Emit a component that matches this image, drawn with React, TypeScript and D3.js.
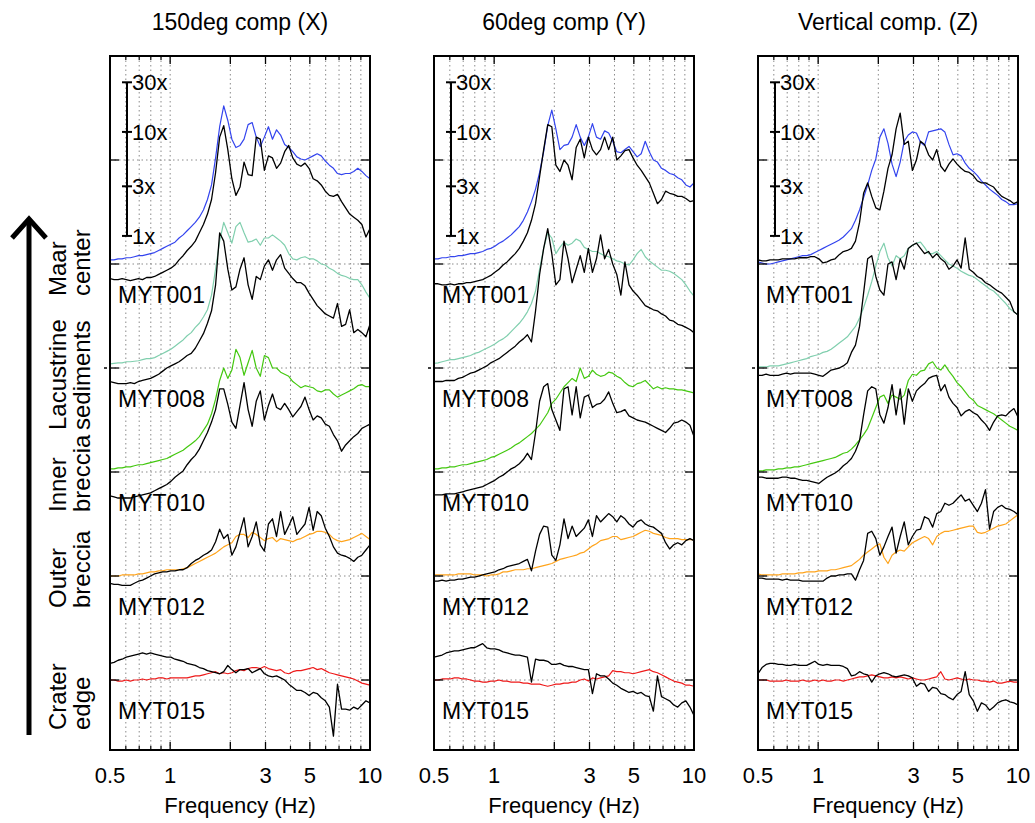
import React from 'react';
import * as d3 from 'd3';

// ---------------- DATA ----------------
// Frequency samples (Hz), log-spaced 0.5 - 10
const FREQ = [0.500,0.524,0.549,0.575,0.603,0.632,0.662,0.694,0.727,0.762,0.798,0.836,0.876,0.918,0.962,1.008,1.057,1.108,1.161,1.216,1.275,1.336,1.400,1.467,1.537,1.611,1.688,1.769,1.854,1.943,2.036,2.133,2.236,2.343,2.455,2.573,2.696,2.825,2.961,3.103,3.251,3.407,3.570,3.741,3.921,4.108,4.305,4.512,4.729,4.955,5.193,5.441,5.702,5.975,6.262,6.562,6.876,7.206,7.551,7.913,8.292,8.690,9.106,9.543,10.000];

const COMPONENTS = ['150deg comp (X)', '60deg comp (Y)', 'Vertical comp. (Z)'];
const STATIONS = ['MYT001', 'MYT008', 'MYT010', 'MYT012', 'MYT015'];
const STATION_DECADE = [4, 3, 2, 1, 0];
const GROUPS = [['Maar', 'center'], ['Lacustrine', 'sediments'], ['Inner', 'breccia'], ['Outer', 'breccia'], ['Crater', 'edge']];
const X_TICK_LABELS = [0.5, 1, 3, 5, 10];
const X_MAJOR = [1, 2, 3, 5];
const X_MINOR = [0.6, 0.7, 0.8, 0.9, 4, 6, 7, 8, 9];
const X_GRID = [0.6, 0.7, 0.8, 0.9, 1, 2, 3, 4, 5, 6, 7, 8, 9];
const SCALE_BAR = [1, 3, 10, 30];
const SCALE_BAR_BASE = 4.27; // log10 position of "1x"

// log10 spectral ratio (reference site = coloured, station = black)
const X001_REF = [0.04,0.04,0.05,0.05,0.06,0.06,0.07,0.08,0.08,0.09,0.10,0.11,0.13,0.15,0.17,0.19,0.21,0.25,0.28,0.32,0.36,0.40,0.45,0.52,0.62,0.76,1.02,1.32,1.52,1.38,1.20,1.12,1.14,1.20,1.34,1.36,1.22,1.13,1.22,1.32,1.20,1.29,1.24,1.15,1.12,1.08,1.03,1.01,1.00,1.02,1.04,1.06,1.04,0.99,0.95,0.92,0.87,0.86,0.87,0.87,0.89,0.92,0.89,0.85,0.82];
const X001_OBS = [-0.14,-0.15,-0.15,-0.14,-0.15,-0.16,-0.15,-0.14,-0.15,-0.13,-0.13,-0.12,-0.10,-0.08,-0.06,-0.04,-0.01,0.04,0.08,0.13,0.17,0.22,0.30,0.38,0.48,0.62,0.88,1.22,1.33,1.10,0.82,0.66,0.74,0.98,0.86,0.85,1.22,1.20,0.90,1.04,1.02,0.92,0.97,1.08,1.14,1.02,0.96,0.94,0.97,0.92,0.82,0.80,0.76,0.70,0.66,0.65,0.67,0.60,0.54,0.48,0.45,0.42,0.38,0.26,0.34];
const X008_REF = [0.04,0.045,0.05,0.05,0.06,0.06,0.065,0.07,0.08,0.09,0.09,0.10,0.12,0.14,0.16,0.18,0.21,0.24,0.27,0.31,0.34,0.39,0.43,0.49,0.56,0.70,0.95,1.22,1.40,1.30,1.20,1.36,1.40,1.30,1.21,1.22,1.24,1.18,1.25,1.25,1.28,1.25,1.22,1.18,1.10,1.05,1.04,1.06,1.07,1.05,1.05,1.03,1.00,0.99,0.96,0.94,0.91,0.89,0.88,0.86,0.85,0.85,0.80,0.73,0.67];
const X008_OBS = [-0.13,-0.14,-0.15,-0.15,-0.15,-0.14,-0.15,-0.13,-0.12,-0.11,-0.10,-0.08,-0.06,-0.03,0.00,0.02,0.04,0.06,0.09,0.12,0.14,0.19,0.26,0.33,0.43,0.55,0.80,1.30,1.22,0.95,0.75,0.78,0.95,1.06,0.80,0.66,0.88,0.85,0.98,1.04,0.94,1.04,1.09,0.96,0.91,0.86,0.82,0.82,0.79,0.72,0.66,0.60,0.56,0.52,0.50,0.48,0.62,0.40,0.42,0.56,0.34,0.37,0.34,0.30,0.42];
const X010_REF = [0.03,0.03,0.04,0.04,0.05,0.05,0.06,0.07,0.07,0.08,0.09,0.10,0.11,0.12,0.13,0.15,0.17,0.19,0.21,0.24,0.27,0.30,0.34,0.40,0.46,0.56,0.70,0.88,1.00,0.90,0.98,1.18,1.10,0.93,1.05,1.17,1.00,0.92,1.12,1.10,1.00,1.00,0.96,0.94,0.92,0.87,0.84,0.81,0.83,0.82,0.81,0.78,0.77,0.79,0.79,0.75,0.72,0.74,0.76,0.78,0.80,0.83,0.84,0.82,0.82];
const X010_OBS = [-0.23,-0.24,-0.25,-0.25,-0.25,-0.25,-0.24,-0.23,-0.22,-0.21,-0.20,-0.18,-0.16,-0.14,-0.12,-0.09,-0.05,-0.02,0.01,0.07,0.12,0.16,0.22,0.30,0.38,0.48,0.60,0.80,0.80,0.65,0.48,0.42,0.64,0.86,0.60,0.44,0.68,0.78,0.50,0.64,0.75,0.62,0.60,0.66,0.60,0.53,0.58,0.63,0.72,0.60,0.50,0.54,0.52,0.46,0.44,0.36,0.30,0.20,0.26,0.30,0.34,0.37,0.42,0.44,0.46];
const X012_REF = [0.00,0.00,0.00,0.01,0.01,0.01,0.01,0.02,0.02,0.03,0.04,0.04,0.05,0.05,0.06,0.06,0.06,0.06,0.07,0.08,0.10,0.12,0.14,0.16,0.18,0.20,0.22,0.25,0.28,0.30,0.32,0.38,0.40,0.40,0.37,0.42,0.40,0.37,0.34,0.36,0.37,0.33,0.36,0.35,0.34,0.33,0.35,0.36,0.38,0.40,0.41,0.43,0.43,0.42,0.40,0.36,0.34,0.33,0.34,0.35,0.37,0.39,0.41,0.38,0.35];
const X012_OBS = [-0.07,-0.08,-0.08,-0.09,-0.09,-0.09,-0.07,-0.05,-0.04,-0.02,0.00,0.02,0.03,0.04,0.04,0.05,0.05,0.06,0.06,0.08,0.12,0.15,0.17,0.20,0.22,0.25,0.33,0.45,0.36,0.40,0.20,0.28,0.42,0.56,0.28,0.38,0.52,0.30,0.24,0.50,0.55,0.38,0.62,0.40,0.48,0.57,0.40,0.45,0.50,0.66,0.44,0.62,0.58,0.46,0.38,0.28,0.22,0.20,0.19,0.17,0.14,0.18,0.20,0.25,0.30];
const X015_REF = [0.00,0.00,-0.01,-0.01,0.00,-0.01,0.00,0.00,0.01,0.00,0.01,0.01,0.02,0.02,0.01,0.02,0.02,0.02,0.02,0.02,0.03,0.04,0.04,0.05,0.06,0.07,0.08,0.06,0.07,0.06,0.07,0.09,0.10,0.09,0.11,0.12,0.12,0.11,0.13,0.11,0.10,0.09,0.10,0.07,0.06,0.08,0.09,0.09,0.10,0.11,0.12,0.10,0.11,0.09,0.07,0.06,0.05,0.04,0.03,0.02,0.01,-0.01,-0.03,-0.04,-0.05];
const X015_OBS = [0.16,0.17,0.19,0.20,0.22,0.23,0.24,0.25,0.26,0.25,0.26,0.25,0.24,0.23,0.22,0.22,0.20,0.19,0.18,0.16,0.15,0.14,0.12,0.11,0.09,0.08,0.07,0.06,0.08,0.14,0.10,0.07,0.10,0.10,0.11,0.07,0.09,0.11,0.06,0.04,0.03,0.04,0.02,0.00,-0.04,-0.07,-0.10,-0.10,-0.12,-0.15,-0.12,-0.13,-0.17,-0.20,-0.26,-0.54,-0.04,-0.28,-0.28,-0.29,-0.26,-0.28,-0.24,-0.20,-0.22];

const Y001_REF = [0.05,0.05,0.06,0.06,0.07,0.07,0.08,0.08,0.09,0.10,0.10,0.11,0.12,0.14,0.15,0.17,0.20,0.22,0.25,0.28,0.32,0.36,0.42,0.50,0.60,0.72,0.88,1.08,1.33,1.48,1.30,1.10,1.14,1.15,1.22,1.34,1.22,1.14,1.22,1.35,1.22,1.20,1.28,1.26,1.18,1.08,1.07,1.10,1.13,1.08,1.03,1.06,1.18,1.08,1.00,0.98,0.92,0.90,0.87,0.86,0.83,0.81,0.76,0.74,0.78];
const Y001_OBS = [-0.19,-0.19,-0.20,-0.20,-0.19,-0.20,-0.19,-0.19,-0.18,-0.18,-0.17,-0.16,-0.15,-0.13,-0.11,-0.08,-0.05,-0.01,0.02,0.06,0.10,0.15,0.22,0.30,0.42,0.58,0.84,1.10,1.34,1.32,0.95,0.89,1.00,0.95,0.81,1.12,1.20,1.02,1.22,1.10,1.05,1.10,1.22,1.10,1.22,1.00,1.04,1.09,1.10,1.02,0.95,0.90,0.84,0.78,0.68,0.58,0.62,0.70,0.68,0.67,0.65,0.65,0.63,0.60,0.61];
const Y008_REF = [0.045,0.05,0.06,0.07,0.08,0.08,0.09,0.10,0.11,0.12,0.14,0.15,0.17,0.19,0.21,0.23,0.26,0.28,0.31,0.35,0.39,0.43,0.48,0.54,0.62,0.74,0.95,1.15,1.30,1.25,1.10,1.16,1.21,1.18,1.20,1.24,1.22,1.16,1.14,1.12,1.12,1.10,1.08,1.07,1.05,1.03,1.02,1.00,0.99,1.04,1.10,1.14,1.07,1.03,1.00,0.97,0.94,0.94,0.93,0.91,0.88,0.85,0.80,0.74,0.69];
const Y008_OBS = [-0.13,-0.13,-0.13,-0.12,-0.12,-0.12,-0.10,-0.09,-0.07,-0.05,-0.04,-0.02,0.00,0.02,0.05,0.07,0.09,0.12,0.15,0.18,0.21,0.25,0.28,0.32,0.25,0.55,0.90,1.15,1.34,1.10,0.80,0.85,1.22,1.05,0.82,0.95,1.08,0.92,1.15,0.92,1.05,1.28,1.05,1.14,1.00,0.90,0.70,1.02,0.80,0.74,0.70,0.65,0.60,0.58,0.56,0.55,0.52,0.50,0.46,0.45,0.42,0.41,0.39,0.37,0.34];
const Y010_REF = [0.03,0.03,0.04,0.04,0.05,0.05,0.06,0.07,0.07,0.08,0.09,0.10,0.11,0.12,0.14,0.15,0.17,0.19,0.21,0.23,0.26,0.28,0.31,0.34,0.37,0.41,0.45,0.51,0.57,0.66,0.70,0.76,0.82,0.86,0.90,0.87,1.00,0.90,0.92,0.98,0.94,0.92,0.93,0.96,0.95,0.92,0.90,0.86,0.83,0.82,0.85,0.86,0.88,0.84,0.80,0.82,0.80,0.81,0.80,0.80,0.79,0.79,0.78,0.77,0.76];
const Y010_OBS = [-0.22,-0.22,-0.22,-0.21,-0.21,-0.21,-0.20,-0.19,-0.18,-0.17,-0.16,-0.15,-0.14,-0.12,-0.10,-0.08,-0.05,-0.03,0.00,0.03,0.05,0.08,0.12,0.18,0.12,0.38,0.68,0.82,0.85,0.60,0.50,0.40,0.80,0.82,0.55,0.82,0.52,0.72,0.74,0.62,0.65,0.66,0.70,0.77,0.66,0.57,0.58,0.60,0.54,0.52,0.50,0.49,0.48,0.46,0.44,0.42,0.40,0.38,0.42,0.47,0.48,0.50,0.48,0.45,0.34];
const Y012_REF = [0.01,0.01,0.01,0.01,0.01,0.01,0.02,0.02,0.02,0.02,0.01,0.01,0.01,0.00,0.01,0.01,0.02,0.04,0.04,0.05,0.06,0.06,0.06,0.07,0.07,0.08,0.09,0.10,0.11,0.12,0.14,0.16,0.17,0.18,0.19,0.20,0.22,0.23,0.26,0.29,0.31,0.34,0.35,0.36,0.38,0.38,0.35,0.36,0.37,0.38,0.40,0.42,0.44,0.43,0.41,0.40,0.39,0.37,0.36,0.36,0.36,0.35,0.35,0.35,0.35];
const Y012_OBS = [-0.05,-0.05,-0.04,-0.05,-0.04,-0.04,-0.03,-0.03,-0.02,-0.01,-0.01,0.00,0.01,0.02,0.03,0.04,0.06,0.07,0.09,0.10,0.11,0.12,0.14,0.16,0.05,0.24,0.40,0.48,0.47,0.20,0.15,0.30,0.55,0.36,0.48,0.38,0.42,0.46,0.54,0.38,0.58,0.52,0.56,0.60,0.57,0.52,0.58,0.55,0.50,0.47,0.52,0.54,0.50,0.48,0.47,0.44,0.41,0.32,0.26,0.30,0.32,0.30,0.34,0.36,0.34];
const Y015_REF = [0.00,0.00,0.01,0.01,0.01,0.02,0.02,0.01,0.01,0.00,-0.01,-0.01,-0.02,-0.02,-0.01,-0.01,0.00,-0.01,-0.01,-0.02,-0.02,-0.02,-0.03,-0.03,-0.04,-0.04,-0.04,-0.05,-0.06,-0.05,-0.04,-0.04,-0.03,-0.03,-0.02,-0.02,0.00,0.01,-0.01,0.02,0.01,0.02,0.03,0.04,0.09,0.08,0.08,0.07,0.07,0.06,0.07,0.08,0.09,0.10,0.08,0.07,0.05,0.03,0.01,-0.01,-0.02,-0.03,-0.05,-0.05,-0.06];
const Y015_OBS = [0.22,0.23,0.24,0.26,0.27,0.28,0.28,0.29,0.30,0.31,0.31,0.33,0.35,0.31,0.30,0.30,0.29,0.27,0.26,0.25,0.24,0.24,0.23,0.22,-0.02,0.20,0.19,0.19,0.18,0.15,0.15,0.16,0.14,0.13,0.13,0.12,0.11,0.10,0.10,-0.13,0.06,0.04,0.04,0.01,-0.03,-0.05,-0.08,-0.10,-0.12,-0.11,-0.13,-0.12,-0.15,-0.16,-0.30,0.04,-0.16,-0.18,-0.20,-0.24,-0.26,-0.22,-0.20,-0.26,-0.34];

const Z001_REF = [0.02,0.01,0.00,0.00,0.01,0.02,0.03,0.04,0.05,0.06,0.07,0.08,0.08,0.09,0.11,0.13,0.15,0.17,0.19,0.21,0.23,0.26,0.30,0.34,0.42,0.52,0.64,0.76,0.90,1.01,1.22,1.30,1.16,0.96,0.84,0.98,1.18,1.24,1.27,1.26,1.17,1.14,1.27,1.28,1.29,1.30,1.27,1.15,1.05,1.06,1.04,0.97,0.92,0.89,0.85,0.80,0.76,0.72,0.69,0.66,0.62,0.60,0.57,0.57,0.58];
const Z001_OBS = [0.04,0.03,0.03,0.04,0.04,0.04,0.05,0.05,0.05,0.05,0.06,0.06,0.06,0.07,0.07,0.05,0.01,0.02,0.04,0.05,0.09,0.12,0.13,0.15,0.22,0.40,0.68,0.78,0.65,0.54,0.52,0.70,0.92,1.05,1.30,1.45,1.15,1.18,0.90,1.00,1.18,1.15,1.05,1.00,1.10,0.94,0.89,0.96,1.01,0.96,0.92,0.89,0.88,0.85,0.80,0.78,0.78,0.76,0.74,0.69,0.65,0.63,0.61,0.58,0.60];
const Z008_REF = [0.01,0.01,0.01,0.02,0.02,0.02,0.03,0.04,0.05,0.06,0.07,0.08,0.09,0.11,0.12,0.13,0.15,0.16,0.18,0.21,0.24,0.27,0.30,0.35,0.40,0.48,0.58,0.70,0.83,0.98,1.12,1.20,1.06,0.98,1.08,1.05,1.08,1.15,1.18,1.20,1.21,1.16,1.10,1.10,1.12,1.08,1.04,1.00,0.98,0.96,0.93,0.91,0.89,0.88,0.85,0.82,0.79,0.76,0.74,0.70,0.66,0.62,0.57,0.54,0.51];
const Z008_OBS = [-0.07,-0.07,-0.06,-0.07,-0.07,-0.07,-0.06,-0.05,-0.06,-0.05,-0.05,-0.05,-0.05,-0.05,-0.06,-0.07,-0.08,-0.05,-0.02,-0.01,0.00,0.02,0.05,0.15,0.22,0.40,0.72,1.05,1.08,0.88,0.75,0.70,1.00,1.02,0.85,1.05,0.95,1.15,1.18,1.20,1.15,1.10,1.12,1.06,1.10,1.05,1.02,0.95,0.98,1.04,0.96,1.25,0.95,0.92,0.88,0.86,0.82,0.80,0.77,0.74,0.72,0.68,0.64,0.54,0.51];
const Z010_REF = [0.01,0.01,0.02,0.02,0.02,0.03,0.03,0.04,0.04,0.05,0.05,0.06,0.07,0.08,0.09,0.10,0.11,0.12,0.13,0.14,0.16,0.18,0.19,0.22,0.26,0.31,0.36,0.42,0.52,0.62,0.72,0.74,0.66,0.74,0.72,0.70,0.74,0.88,0.94,0.93,0.97,0.98,1.04,1.06,1.00,0.98,1.03,0.97,0.92,0.86,0.82,0.77,0.72,0.69,0.64,0.62,0.60,0.58,0.56,0.53,0.50,0.47,0.44,0.42,0.40];
const Z010_OBS = [-0.05,-0.05,-0.06,-0.06,-0.06,-0.06,-0.05,-0.05,-0.06,-0.06,-0.07,-0.08,-0.08,-0.09,-0.10,-0.11,-0.08,-0.05,-0.03,-0.01,0.02,0.06,0.09,0.13,0.20,0.30,0.55,0.78,0.82,0.80,0.55,0.47,0.62,0.84,0.55,0.80,0.46,0.80,0.68,0.78,0.82,0.85,0.90,0.92,0.93,0.78,0.84,0.72,0.66,0.62,0.54,0.58,0.60,0.57,0.55,0.50,0.46,0.40,0.48,0.54,0.55,0.54,0.58,0.61,0.53];
const Z012_REF = [0.02,0.01,0.01,0.01,0.01,0.01,0.02,0.02,0.02,0.02,0.03,0.03,0.04,0.04,0.04,0.05,0.05,0.05,0.06,0.06,0.07,0.08,0.09,0.10,0.13,0.16,0.20,0.23,0.26,0.29,0.31,0.18,0.12,0.20,0.23,0.25,0.24,0.28,0.32,0.34,0.36,0.38,0.36,0.30,0.38,0.41,0.43,0.43,0.44,0.45,0.46,0.47,0.48,0.48,0.42,0.41,0.42,0.44,0.46,0.48,0.49,0.50,0.53,0.56,0.59];
const Z012_OBS = [-0.02,-0.02,-0.03,-0.03,-0.03,-0.03,-0.04,-0.03,-0.04,-0.04,-0.04,-0.05,-0.05,-0.05,-0.05,-0.05,-0.05,-0.02,0.00,0.00,0.01,0.01,0.02,0.02,-0.04,0.06,0.15,0.41,0.43,0.36,0.20,0.28,0.38,0.47,0.22,0.38,0.52,0.30,0.38,0.44,0.45,0.57,0.55,0.47,0.60,0.62,0.70,0.68,0.70,0.74,0.78,0.72,0.74,0.68,0.62,0.70,0.83,0.45,0.62,0.66,0.68,0.65,0.64,0.62,0.59];
const Z015_REF = [0.00,0.00,0.00,-0.01,-0.01,-0.01,-0.01,0.00,-0.01,-0.01,-0.01,0.00,-0.01,-0.01,0.00,-0.01,0.00,-0.01,-0.01,0.00,0.00,-0.01,0.00,0.01,0.02,0.03,0.03,0.04,0.05,0.04,0.03,0.02,0.02,0.03,0.02,0.03,0.02,0.01,0.02,0.01,0.00,0.00,0.01,0.02,0.03,0.08,0.01,0.00,0.01,0.02,0.01,0.00,0.01,0.00,0.00,-0.01,-0.01,-0.02,-0.01,-0.03,-0.03,-0.02,-0.01,-0.02,-0.02];
const Z015_OBS = [0.06,0.12,0.15,0.16,0.16,0.15,0.15,0.14,0.14,0.15,0.14,0.14,0.14,0.16,0.18,0.15,0.14,0.15,0.14,0.14,0.14,0.13,0.11,0.04,0.05,0.08,0.06,0.05,-0.02,0.04,0.06,0.07,0.06,0.04,0.03,0.04,0.05,0.04,0.02,-0.06,-0.03,-0.04,-0.11,-0.07,-0.08,-0.13,-0.14,-0.17,-0.19,-0.14,-0.11,0.08,-0.14,-0.20,-0.30,-0.22,-0.24,-0.29,-0.26,-0.22,-0.20,-0.19,-0.21,-0.22,-0.24];

// [component][station] -> [reference, station]
const SERIES = [
  [[X001_REF, X001_OBS], [X008_REF, X008_OBS], [X010_REF, X010_OBS], [X012_REF, X012_OBS], [X015_REF, X015_OBS]],
  [[Y001_REF, Y001_OBS], [Y008_REF, Y008_OBS], [Y010_REF, Y010_OBS], [Y012_REF, Y012_OBS], [Y015_REF, Y015_OBS]],
  [[Z001_REF, Z001_OBS], [Z008_REF, Z008_OBS], [Z010_REF, Z010_OBS], [Z012_REF, Z012_OBS], [Z015_REF, Z015_OBS]],
];

// ---------------- LAYOUT / STYLE ----------------
const W = 1035;
const H = 823;
const PANEL_LEFT = [110, 434, 758];
const PANEL_WIDTH = 260;
const PLOT_TOP = 56;
const PLOT_BOTTOM = 750;
const FONT = "'Liberation Sans', Arial, Helvetica, sans-serif";
const REF_COLORS = ['#3344ee', '#80cfae', '#44c810', '#ffa41c', '#ee1a1a'];
const GROUP_START_Y = [296, 430, 512, 608, 730];

const yScale = d3.scaleLog().domain([Math.pow(10, -0.673), 1e6]).range([PLOT_BOTTOM, PLOT_TOP]);

function Panel({ index }: { index: number }) {
  const x0 = PANEL_LEFT[index];
  const x1 = x0 + PANEL_WIDTH;
  const x = d3.scaleLog().domain([0.5, 10]).range([x0, x1]);
  const clipId = `clip-${index}`;
  const decades = [0, 1, 2, 3, 4, 5];

  const makePath = (vals: number[], decade: number) => {
    const n = Math.min(vals.length, FREQ.length);
    const pts: [number, number][] = [];
    for (let i = 0; i < n; i++) pts.push([FREQ[i], vals[i]]);
    const line = d3
      .line<[number, number]>()
      .x((d) => x(d[0]))
      .y((d) => yScale(Math.pow(10, decade + d[1])));
    return line(pts) || '';
  };

  const sb = (k: number) => yScale(Math.pow(10, SCALE_BAR_BASE) * k);
  const sbx = x0 + 17;

  return (
    <g>
      <defs>
        <clipPath id={clipId}>
          <rect x={x0} y={PLOT_TOP} width={PANEL_WIDTH} height={PLOT_BOTTOM - PLOT_TOP} />
        </clipPath>
      </defs>
      {X_GRID.map((f) => (
        <line key={'gx' + f} x1={x(f)} x2={x(f)} y1={PLOT_TOP} y2={PLOT_BOTTOM} stroke="#8a8a8a" strokeWidth={1} strokeDasharray="1.5 3" />
      ))}
      {decades.map((d) => (
        <line key={'gy' + d} x1={x0} x2={x1} y1={yScale(Math.pow(10, d))} y2={yScale(Math.pow(10, d))} stroke="#8a8a8a" strokeWidth={1} strokeDasharray="1.5 3" />
      ))}
      <g clipPath={`url(#${clipId})`} fill="none" strokeLinejoin="round">
        {STATIONS.map((s, si) => (
          <g key={s}>
            <path d={makePath(SERIES[index][si][0], STATION_DECADE[si])} stroke={REF_COLORS[si]} strokeWidth={1.2} />
            <path d={makePath(SERIES[index][si][1], STATION_DECADE[si])} stroke="#000" strokeWidth={1.3} />
          </g>
        ))}
      </g>
      <rect x={x0} y={PLOT_TOP} width={PANEL_WIDTH} height={PLOT_BOTTOM - PLOT_TOP} fill="none" stroke="#000" strokeWidth={2} />
      {decades.map((d) => (
        <g key={'yt' + d}>
          <line x1={x0} x2={x0 + 9} y1={yScale(Math.pow(10, d))} y2={yScale(Math.pow(10, d))} stroke="#000" strokeWidth={1.3} />
          <line x1={x1 - 9} x2={x1} y1={yScale(Math.pow(10, d))} y2={yScale(Math.pow(10, d))} stroke="#000" strokeWidth={1.3} />
        </g>
      ))}
      <line x1={x0 - 6} x2={x0 - 3} y1={yScale(Math.pow(10, 3))} y2={yScale(Math.pow(10, 3))} stroke="#000" strokeWidth={1.5} />
      {X_MAJOR.map((f) => (
        <g key={'xm' + f}>
          <line x1={x(f)} x2={x(f)} y1={PLOT_BOTTOM} y2={PLOT_BOTTOM - 8} stroke="#000" strokeWidth={1.3} />
          <line x1={x(f)} x2={x(f)} y1={PLOT_TOP} y2={PLOT_TOP + 8} stroke="#000" strokeWidth={1.3} />
        </g>
      ))}
      {X_MINOR.map((f) => (
        <g key={'xn' + f}>
          <line x1={x(f)} x2={x(f)} y1={PLOT_BOTTOM} y2={PLOT_BOTTOM - 4} stroke="#000" strokeWidth={1.2} />
          <line x1={x(f)} x2={x(f)} y1={PLOT_TOP} y2={PLOT_TOP + 4} stroke="#000" strokeWidth={1.2} />
        </g>
      ))}
      {X_TICK_LABELS.map((f) => (
        <text key={'xl' + f} x={x(f)} y={783} textAnchor="middle" fontSize={22} fill="#000">
          {String(f)}
        </text>
      ))}
      <text x={x0 + PANEL_WIDTH / 2} y={813} textAnchor="middle" fontSize={22} fill="#000">
        Frequency (Hz)
      </text>
      <text x={x0 + PANEL_WIDTH / 2} y={30} textAnchor="middle" fontSize={23} fill="#000">
        {COMPONENTS[index]}
      </text>
      <line x1={sbx} x2={sbx} y1={sb(1)} y2={sb(30)} stroke="#000" strokeWidth={2} />
      {SCALE_BAR.map((k) => (
        <g key={'sb' + k}>
          <line x1={sbx - 5} x2={sbx + 5} y1={sb(k)} y2={sb(k)} stroke="#000" strokeWidth={2} />
          <text x={sbx + 5} y={sb(k) + 8} fontSize={22} fill="#000">
            {`${k}x`}
          </text>
        </g>
      ))}
      {STATIONS.map((s, si) => (
        <text key={'lab' + s} x={x0 + 8} y={yScale(Math.pow(10, STATION_DECADE[si])) + 39} fontSize={23} fill="#000">
          {s}
        </text>
      ))}
    </g>
  );
}

export default function App() {
  return (
    <svg
      width={W}
      height={H}
      viewBox={`0 0 ${W} ${H}`}
      style={{ position: 'absolute', left: 0, top: 0, background: '#fff' }}
      fontFamily={FONT}
    >
      <rect x={0} y={0} width={W} height={H} fill="#fff" />
      {COMPONENTS.map((c, i) => (
        <Panel key={c} index={i} />
      ))}
      <line x1={29} x2={29} y1={735} y2={222} stroke="#000" strokeWidth={5} />
      <polyline points="12,238 29,219 46,238" fill="none" stroke="#000" strokeWidth={5} strokeLinejoin="miter" />
      {GROUPS.map((g, gi) => (
        <g key={'grp' + gi}>
          <text transform={`translate(66,${GROUP_START_Y[gi]}) rotate(-90)`} fontSize={24} fill="#000">
            {g[0]}
          </text>
          <text transform={`translate(90,${GROUP_START_Y[gi]}) rotate(-90)`} fontSize={24} fill="#000">
            {g[1]}
          </text>
        </g>
      ))}
    </svg>
  );
}
